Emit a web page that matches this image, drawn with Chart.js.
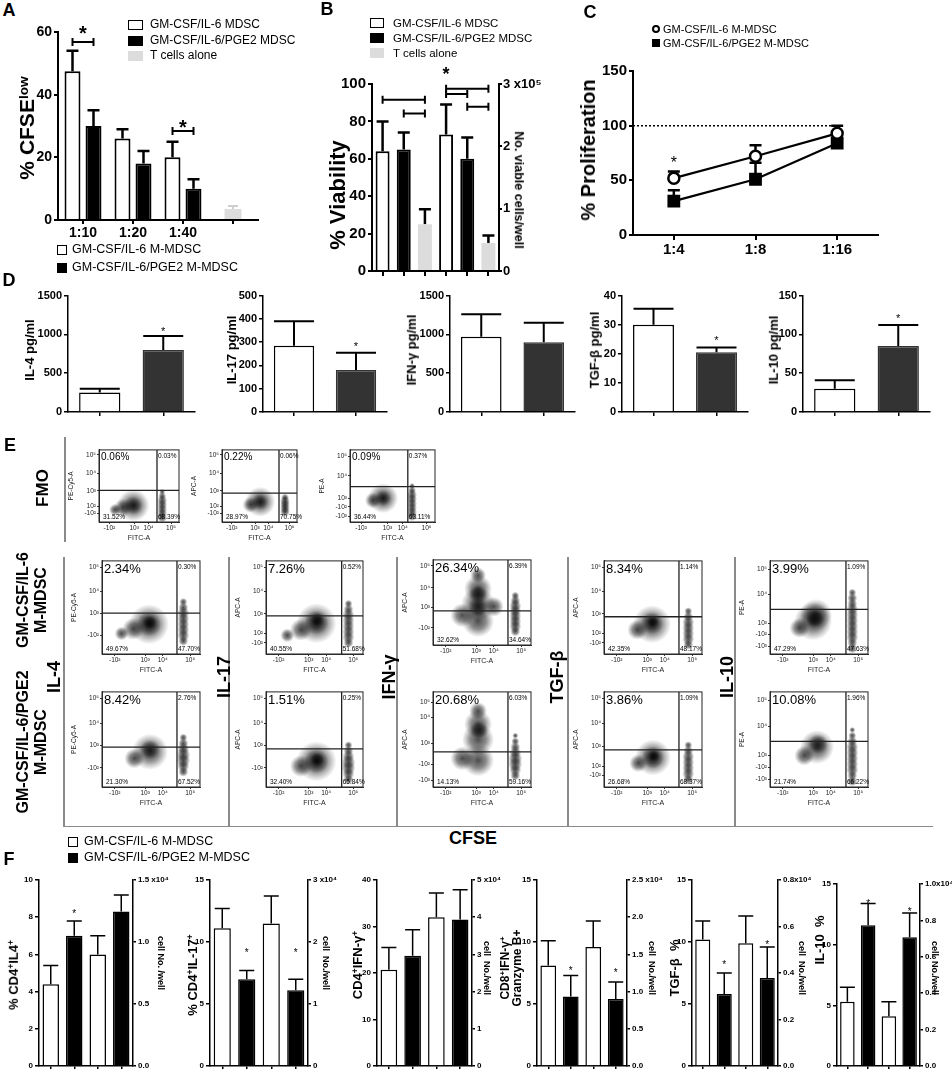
<!DOCTYPE html>
<html>
<head>
<meta charset="utf-8">
<script src="https://cdn.jsdelivr.net/npm/chart.js@4.4.1/dist/chart.umd.min.js"></script>
<style>
  body { margin: 0; background: #fff; }
  #page { position: relative; width: 952px; height: 1076px; overflow: hidden; font-family: "Liberation Sans", Arial, sans-serif; color: #000; }
  .box { position: absolute; }
  .t { position: absolute; white-space: nowrap; font-weight: bold; line-height: 1.1; text-align: center; }
  .n { font-weight: normal; }
  .tight { line-height: 1.0; }
  .sw { position: absolute; box-sizing: border-box; }
  .ln { position: absolute; background: #8a8a8a; }
  sup { font-size: 0.65em; vertical-align: 0.5em; line-height: 0; }
</style>
</head>
<body>
<div id="page"></div>
<script>
// ---------- A: % CFSE low ----------
const ratiosA = ['1:10', '1:20', '1:40', ''];
const cfseIl6 = [47.5, 26, 20, null];
const cfseIl6Err = [54, 29, 25, null];
const cfsePge2 = [30, 18, 10, null];
const cfsePge2Err = [35, 22, 13, null];
const cfseTalone = [null, null, null, 3.5];
const cfseTaloneErr = [null, null, null, 4.5];

// ---------- B: viability (%) and viable cells (x10^5) ----------
const viabilityCats = ['', '', '', '', '', ''];
const viabilityPct = [64, 65, 25, null, null, null];
const viabilityPctErr = [80, 74, 33, null, null, null];
const viableCells = [null, null, null, 2.19, 1.8, 0.45];
const viableCellsErr = [null, null, null, 2.67, 2.14, 0.57];

// ---------- C: % proliferation ----------
const ratiosC = ['1:4', '1:8', '1:16'];
const prolifIl6 = [52, 72, 93];
const prolifIl6Err = [58, 82, 100];
const prolifPge2 = [31, 51, 84];
const prolifPge2Err = [41, 66, null];

// ---------- D: cytokines pg/ml ----------
const cytokinesD = ['IL-4', 'IL-17', 'IFN-γ', 'TGF-β', 'IL-10'];
const dMax = [1500, 500, 1500, 40, 150];
const dStep = [500, 100, 500, 10, 50];
const dIl6 = [250, 285, 970, 30, 30];
const dIl6Err = [300, 390, 1260, 35.5, 41];
const dPge2 = [800, 180, 900, 20.5, 85];
const dPge2Err = [980, 255, 1150, 22.2, 112];
const dStar = [1075, 295, null, 25.6, 124];

// ---------- E: flow plots ----------
const fitcTicks = [13, 44, 62, 90];
const fitcTickText = ['-10²', '10³', '10⁴', '10⁵'];
const yPos5 = [93, 67, 43, 22, 12];
const yTxt5 = ['10⁵', '10⁴', '10³', '10²', '-10²'];
const yPos4 = [93, 67, 44, 20];
const yTxt4 = ['10⁵', '10⁴', '10³', '-10²'];
const yPosPe = [91, 64, 33, 21, 8];
const yPosIfn2 = [89, 73, 46, 24, 7];
const yTxtPe = ['10⁵', '10⁴', '10³', '-10²', '-10³'];

const fmoTitles = ['PE-Cy5-A', 'APC-A', 'PE-A'];
const rowTitles = ['PE-Cy5-A', 'APC-A', 'APC-A', 'APC-A', 'PE-A'];

const fmoPct = [
  ['0.06%', '0.03%', '31.52%', '68.39%'],
  ['0.22%', '0.06%', '28.97%', '70.75%'],
  ['0.09%', '0.37%', '36.44%', '63.11%']
];
const il6Pct = [
  ['2.34%', '0.30%', '49.67%', '47.70%'],
  ['7.26%', '0.52%', '40.55%', '51.68%'],
  ['26.34%', '6.39%', '32.62%', '34.64%'],
  ['8.34%', '1.14%', '42.35%', '48.17%'],
  ['3.99%', '1.09%', '47.29%', '47.63%']
];
const pge2Pct = [
  ['8.42%', '2.76%', '21.30%', '67.52%'],
  ['1.51%', '0.25%', '32.40%', '65.84%'],
  ['20.68%', '6.03%', '14.13%', '59.16%'],
  ['3.86%', '1.09%', '26.68%', '68.37%'],
  ['10.08%', '1.96%', '21.74%', '66.22%']
];
const fmoGates = [[72.5, 44], [76, 40], [68, 49]];
const il6Gates = [[76.5, 44], [78, 41], [76.5, 40], [76.5, 40], [77.5, 48]];
const pge2Gates = [[76.5, 42], [78, 40], [76.5, 37], [76.5, 39], [77.5, 48]];

// cell clouds: [x, y, radius] — left: proliferated cells, right: undivided CFSE-high column
const fmoCells = [
  [[43, 23, 16], [43, 23, 9], [30, 20, 9], [20, 17, 6],
   [79, 6, 5], [79, 12, 5], [79, 18, 5], [79, 24, 5], [79, 30, 5], [79, 36, 4], [79, 42, 3]],
  [[51, 28, 15], [51, 28, 8], [38, 24, 8],
   [84, 14, 5], [84, 19, 5], [84, 24, 5], [84, 29, 5], [84, 34, 4]],
  [[39, 33, 15], [39, 33, 8], [27, 30, 8],
   [73, 8, 5], [73, 14, 5], [73, 20, 5], [73, 26, 5], [73, 32, 5], [73, 38, 5], [73, 44, 4], [73, 50, 3]]
];
const il6Cells = [
  [[48, 32, 20], [48, 32, 12], [49, 34, 7], [32, 27, 11], [20, 22, 7],
   [83, 14, 5], [83, 20, 6], [83, 26, 6], [83, 32, 6], [83, 38, 6], [83, 44, 6], [83, 50, 5], [83, 56, 4]],
  [[52, 33, 20], [52, 34, 12], [53, 37, 7], [36, 26, 11], [22, 20, 7],
   [85, 12, 5], [85, 18, 6], [85, 24, 6], [85, 30, 6], [85, 36, 6], [85, 42, 6], [85, 48, 5], [85, 54, 4]],
  [[46, 28, 16], [46, 48, 17], [46, 66, 14], [46, 82, 8], [46, 45, 10], [46, 60, 9], [30, 35, 12], [62, 45, 10],
   [84, 16, 5], [84, 22, 6], [84, 28, 6], [84, 34, 6], [84, 40, 6], [84, 46, 6], [84, 52, 5], [84, 58, 4]],
  [[49, 32, 19], [49, 33, 11], [50, 35, 6], [34, 26, 10],
   [86, 10, 5], [86, 16, 6], [86, 22, 6], [86, 28, 6], [86, 34, 6], [86, 40, 5], [86, 46, 4]],
  [[44, 35, 19], [47, 42, 16], [46, 38, 9], [30, 28, 10],
   [84, 6, 5], [84, 12, 5], [84, 18, 6], [84, 24, 6], [84, 30, 6], [84, 36, 6], [84, 42, 6], [84, 48, 6], [84, 54, 5], [84, 60, 5], [84, 66, 4]]
];
const pge2Cells = [
  [[49, 37, 18], [49, 39, 10], [33, 30, 10],
   [83, 16, 5], [83, 22, 6], [83, 28, 7], [83, 34, 7], [83, 40, 6], [83, 46, 5], [83, 52, 4]],
  [[52, 27, 20], [52, 27, 12], [53, 29, 7], [36, 22, 11],
   [85, 8, 5], [85, 14, 6], [85, 20, 7], [85, 26, 7], [85, 32, 6], [85, 38, 5], [85, 44, 4]],
  [[46, 28, 16], [46, 50, 16], [46, 66, 14], [46, 80, 9], [47, 60, 9], [30, 30, 12],
   [84, 12, 5], [84, 18, 6], [84, 24, 7], [84, 30, 7], [84, 36, 6], [84, 42, 5], [84, 48, 4], [84, 54, 3]],
  [[50, 31, 18], [50, 31, 11], [51, 33, 6], [35, 25, 9],
   [86, 8, 5], [86, 14, 6], [86, 20, 6], [86, 26, 6], [86, 32, 6], [86, 38, 5], [86, 44, 4]],
  [[48, 42, 17], [49, 45, 10], [35, 33, 10],
   [84, 6, 5], [84, 12, 5], [84, 18, 6], [84, 24, 6], [84, 30, 6], [84, 36, 6], [84, 42, 6], [84, 48, 5], [84, 54, 4], [84, 60, 3]]
];

// ---------- F: % positive (left) and cells/well x10^4 (right) ----------
const fLeftMax = [10, 15, 40, 15, 15, 15];
const fLeftStep = [2, 5, 10, 5, 5, 5];
const fRightMax = [1.5, 3, 5, 2.5, 0.8, 1.0];
const fRightStep = [0.5, 1, 1, 0.5, 0.2, 0.2];
const fPctIl6 = [4.4, 11.1, 20.7, 8.1, 10.2, 5.3];
const fPctIl6Err = [5.4, 12.7, 25.5, 10.1, 11.7, 6.5];
const fPctPge2 = [7.0, 7.0, 23.7, 5.6, 5.8, 11.6];
const fPctPge2Err = [7.8, 7.7, 29.3, 7.3, 7.5, 13.4];
const fCellsIl6 = [0.9, 2.3, 4.0, 1.6, 0.528, 0.273];
const fCellsIl6Err = [1.05, 2.74, 4.65, 1.95, 0.645, 0.353];
const fCellsPge2 = [1.245, 1.22, 3.94, 0.9, 0.379, 0.707];
const fCellsPge2Err = [1.38, 1.4, 4.74, 1.13, 0.512, 0.84];
const fStarA = [8.3, 9.35, null, 7.9, 8.4, 13.6];
const fStarB = [null, 9.35, null, 7.7, 10.0, 12.9];

// ---------- helpers ----------
Chart.defaults.font.family = '"Liberation Sans", Arial, sans-serif';
Chart.defaults.color = '#000';

const page = document.getElementById('page');
const FONT = '"Liberation Sans", Arial, sans-serif';

function mount(box, m) {
  const d = document.createElement('div');
  d.className = 'box';
  d.style.left = (box[0] - m[0]) + 'px';
  d.style.top = (box[1] - m[1]) + 'px';
  d.style.width = (box[2] + m[0] + m[2]) + 'px';
  d.style.height = (box[3] + m[1] + m[3]) + 'px';
  const c = document.createElement('canvas');
  d.appendChild(c);
  page.appendChild(d);
  return c;
}

function txt(html, x, y, size, rot, cls, left) {
  const d = document.createElement('div');
  d.className = 't' + (cls ? ' ' + cls : '');
  d.innerHTML = html;
  d.style.left = x + 'px';
  d.style.top = y + 'px';
  d.style.fontSize = size + 'px';
  d.style.transform = 'translate(' + (left ? '0' : '-50%') + ',-50%)' + (rot ? ' rotate(' + rot + 'deg)' : '');
  page.appendChild(d);
}

function swatch(x, y, w, h, fill, border, round) {
  const d = document.createElement('div');
  d.className = 'sw';
  Object.assign(d.style, { left: x + 'px', top: y + 'px', width: w + 'px', height: h + 'px', background: fill });
  if (border) d.style.border = border;
  if (round) d.style.borderRadius = '50%';
  page.appendChild(d);
}

function rule(x, y, w, h) {
  const d = document.createElement('div');
  d.className = 'ln';
  Object.assign(d.style, { left: x + 'px', top: y + 'px', width: w + 'px', height: h + 'px' });
  page.appendChild(d);
}

function elX(chart, ref) {
  return chart.getDatasetMeta(ref[0]).data[ref[1]].x;
}

// soft round fill so the cell clouds fade out at the edges
function blobFill(c) {
  if (c.type !== 'data' || !c.raw) return 'rgba(0,0,0,0.3)';
  const ch = c.chart;
  const x = ch.scales.x ? ch.scales.x.getPixelForValue(c.raw.x) : NaN;
  const y = ch.scales.y ? ch.scales.y.getPixelForValue(c.raw.y) : NaN;
  if (!isFinite(x) || !isFinite(y) || !(c.raw.r > 0)) return 'rgba(0,0,0,0.3)';
  const g = ch.ctx.createRadialGradient(x, y, 0, x, y, c.raw.r);
  g.addColorStop(0, 'rgba(0,0,0,0.7)');
  g.addColorStop(0.5, 'rgba(0,0,0,0.45)');
  g.addColorStop(0.8, 'rgba(0,0,0,0.16)');
  g.addColorStop(1, 'rgba(0,0,0,0)');
  return g;
}

// error bars, brackets, stars, reference line, flow gates
const extras = {
  id: 'extras',
  beforeDatasetsDraw(chart) {
    const ctx = chart.ctx;
    chart.data.datasets.forEach((ds, di) => {
      if (!ds.errors) return;
      const meta = chart.getDatasetMeta(di);
      const sc = chart.scales[meta.yAxisID];
      meta.data.forEach((el, i) => {
        const e = ds.errors[i];
        if (e == null || ds.data[i] == null) return;
        const ye = sc.getPixelForValue(e);
        const cap = (ds.capWidth || 8) / 2;
        ctx.save();
        ctx.strokeStyle = ds.errorColor || '#000';
        ctx.lineWidth = ds.errorWidth || 2;
        ctx.beginPath();
        ctx.moveTo(el.x, el.y);
        ctx.lineTo(el.x, ye);
        ctx.moveTo(el.x - cap, ye);
        ctx.lineTo(el.x + cap, ye);
        ctx.stroke();
        ctx.restore();
      });
    });
  },
  afterDraw(chart) {
    const o = (chart.config.options.plugins || {}).extras || {};
    const ctx = chart.ctx, a = chart.chartArea, y = chart.scales.y;
    ctx.save();
    ctx.strokeStyle = '#000';
    ctx.fillStyle = '#000';
    (o.brackets || []).forEach(b => {
      const x1 = elX(chart, b.from), x2 = elX(chart, b.to), yy = y.getPixelForValue(b.v);
      ctx.lineWidth = 2;
      ctx.beginPath();
      ctx.moveTo(x1, yy - 4); ctx.lineTo(x1, yy + 4);
      ctx.moveTo(x1, yy); ctx.lineTo(x2, yy);
      ctx.moveTo(x2, yy - 4); ctx.lineTo(x2, yy + 4);
      ctx.stroke();
    });
    (o.stars || []).forEach(s => {
      let x = elX(chart, s.at);
      if (s.to) x = (x + elX(chart, s.to)) / 2;
      ctx.font = (s.bold === false ? '' : 'bold ') + s.size + 'px ' + FONT;
      ctx.textAlign = 'center';
      ctx.textBaseline = 'alphabetic';
      ctx.fillText('*', x, y.getPixelForValue(s.v) + 0.58 * s.size);
    });
    if (o.refLine) {
      const yy = y.getPixelForValue(o.refLine.v);
      ctx.lineWidth = 1.5;
      ctx.setLineDash([2, 2]);
      ctx.beginPath();
      ctx.moveTo(a.left, yy);
      ctx.lineTo(chart.scales.x.getPixelForValue(o.refLine.to), yy);
      ctx.stroke();
      ctx.setLineDash([]);
    }
    if (o.flow) {
      const f = o.flow, xs = chart.scales.x;
      ctx.strokeStyle = '#222';
      ctx.lineWidth = 1;
      ctx.strokeRect(a.left, a.top, a.right - a.left, a.bottom - a.top);
      const gx = xs.getPixelForValue(f.gate[0]), gy = y.getPixelForValue(f.gate[1]);
      ctx.lineWidth = 1.3;
      ctx.beginPath();
      ctx.moveTo(gx, a.top); ctx.lineTo(gx, a.bottom);
      ctx.moveTo(a.left, gy); ctx.lineTo(a.right, gy);
      ctx.stroke();
      ctx.textAlign = 'left';
      ctx.textBaseline = 'top';
      ctx.font = f.big + 'px ' + FONT;
      ctx.fillText(f.pct[0], a.left + 2, a.top + 2);
      ctx.font = '6.5px ' + FONT;
      ctx.fillText(f.pct[1], gx + 1, a.top + 3);
      ctx.textBaseline = 'bottom';
      ctx.fillText(f.pct[2], a.left + 4, a.bottom - 2);
      ctx.fillText(f.pct[3], gx + 1, a.bottom - 2);
    }
    ctx.restore();
  }
};
Chart.register(extras);

function baseOpts(m, scales, ex) {
  return {
    responsive: true,
    maintainAspectRatio: false,
    animation: false,
    events: [],
    layout: { autoPadding: false, padding: { left: 0, top: m[1], right: scales.y1 ? 0 : m[2], bottom: 0 } },
    scales,
    plugins: { legend: { display: false }, tooltip: { enabled: false }, extras: ex || {} }
  };
}

function catAxis(h, size, tick, bw) {
  return {
    type: 'category', offset: true,
    grid: { offset: false, drawOnChartArea: false, color: '#000', lineWidth: bw || 1.5, tickLength: tick },
    border: { color: '#000', width: bw || 1.5 },
    ticks: { font: { size, weight: 'bold' }, padding: 1, maxRotation: 0, autoSkip: false },
    afterFit: s => { s.height = h; }
  };
}

function valAxis(w, max, step, size, pos, cb, bw) {
  return {
    type: 'linear', position: pos || 'left', min: 0, max,
    grid: { drawOnChartArea: false, color: '#000', lineWidth: bw || 1.5, tickLength: 4 },
    border: { color: '#000', width: bw || 1.5 },
    ticks: { stepSize: step, font: { size, weight: 'bold' }, padding: 2, callback: cb || (v => String(v)) },
    afterFit: s => { s.width = w; }
  };
}

// ---------- panel A ----------
{
  const m = [36, 14, 6, 24];
  const bar = { skipNull: true, categoryPercentage: 0.84, barPercentage: 0.76, maxBarThickness: 17 };
  new Chart(mount([58, 32, 200, 188], m), {
    type: 'bar',
    data: {
      labels: ratiosA,
      datasets: [
        { ...bar, data: cfseIl6, errors: cfseIl6Err, backgroundColor: '#fff', borderColor: '#000', borderWidth: 2, capWidth: 12, errorWidth: 2.5 },
        { ...bar, data: cfsePge2, errors: cfsePge2Err, backgroundColor: '#000', borderColor: '#000', borderWidth: 2, capWidth: 12, errorWidth: 2.5 },
        { ...bar, data: cfseTalone, errors: cfseTaloneErr, backgroundColor: '#dcdcdc', borderWidth: 0, errorColor: '#cfcfcf', capWidth: 10 }
      ]
    },
    options: baseOpts(m, {
      x: catAxis(24, 14, 4, 2),
      y: valAxis(36, 60, 20, 14, 'left', null, 2)
    }, {
      brackets: [{ from: [0, 0], to: [1, 0], v: 56.8 }, { from: [0, 2], to: [1, 2], v: 28.4 }],
      stars: [{ at: [0, 0], to: [1, 0], v: 61.3, size: 20 }, { at: [0, 2], to: [1, 2], v: 31.3, size: 20 }]
    })
  });
  txt('A', 9, 11, 18);
  txt('% CFSE<sup>low</sup>', 27, 128, 21, -90);
  swatch(128, 20, 15, 10, '#fff', '1.5px solid #000');
  swatch(128, 36, 15, 10, '#000');
  swatch(128, 51, 15, 10, '#dcdcdc');
  txt('GM-CSF/IL-6 MDSC', 150, 25, 12, 0, 'n', true);
  txt('GM-CSF/IL-6/PGE2 MDSC', 150, 41, 12, 0, 'n', true);
  txt('T cells alone', 150, 56, 12, 0, 'n', true);
  swatch(57, 245, 10, 10, '#fff', '1.5px solid #000');
  swatch(57, 263, 10, 10, '#000');
  txt('GM-CSF/IL-6 M-MDSC', 72, 250, 12.5, 0, 'n', true);
  txt('GM-CSF/IL-6/PGE2 M-MDSC', 72, 268, 12.5, 0, 'n', true);
}

// ---------- panel B ----------
{
  const m = [40, 30, 62, 8];
  const bar = { skipNull: true, categoryPercentage: 1, barPercentage: 0.66, borderColor: '#000', borderWidth: 2, capWidth: 12, errorWidth: 2.5 };
  const fills = ['#fff', '#000', '#dcdcdc', '#fff', '#000', '#dcdcdc'];
  const rightAxis = valAxis(62, 3, 1, 13, 'right', (v, i, t) => i === t.length - 1 ? v + ' x10⁵' : String(v), 2);
  rightAxis.ticks.padding = 1;
  rightAxis.grid.tickLength = 3;
  new Chart(mount([372, 84, 127, 190], m), {
    type: 'bar',
    data: {
      labels: viabilityCats,
      datasets: [
        { ...bar, data: viabilityPct, errors: viabilityPctErr, backgroundColor: fills, borderWidth: [2, 2, 0, 2, 2, 0] },
        { ...bar, yAxisID: 'y1', data: viableCells, errors: viableCellsErr, backgroundColor: fills, borderWidth: [2, 2, 0, 2, 2, 0] }
      ]
    },
    options: baseOpts(m, {
      x: catAxis(8, 10, 5, 2),
      y: valAxis(40, 100, 20, 15, 'left', null, 2),
      y1: rightAxis
    }, {
      brackets: [
        { from: [0, 0], to: [0, 2], v: 91.6 }, { from: [0, 1], to: [0, 2], v: 84.2 },
        { from: [1, 3], to: [1, 5], v: 97.4 }, { from: [1, 3], to: [1, 4], v: 94.7 }, { from: [1, 4], to: [1, 5], v: 87.9 }
      ],
      stars: [{ at: [1, 3], v: 107.9, size: 18 }]
    })
  });
  txt('B', 327, 10, 18);
  txt('% Viability', 338, 195, 22, -90);
  txt('No. viable cells/well', 518, 190, 12.5, 90);
  swatch(370, 18, 14, 10, '#fff', '1.5px solid #000');
  swatch(370, 33, 14, 10, '#000');
  swatch(370, 48, 14, 10, '#dcdcdc');
  txt('GM-CSF/IL-6 MDSC', 393, 23, 11.5, 0, 'n', true);
  txt('GM-CSF/IL-6/PGE2 MDSC', 393, 38, 11.5, 0, 'n', true);
  txt('T cells alone', 393, 53, 11.5, 0, 'n', true);
}

// ---------- panel C ----------
{
  const m = [40, 10, 8, 22];
  new Chart(mount([633, 70, 245, 165], m), {
    type: 'line',
    data: {
      labels: ratiosC,
      datasets: [
        { data: prolifIl6, errors: prolifIl6Err, borderColor: '#000', borderWidth: 2.2, pointStyle: 'circle', pointRadius: 5.5, pointBorderWidth: 2.5, pointBackgroundColor: '#fff', pointBorderColor: '#000', capWidth: 12, errorWidth: 2.5 },
        { data: prolifPge2, errors: prolifPge2Err, borderColor: '#000', borderWidth: 2.2, pointStyle: 'rect', pointRadius: 7.5, pointBackgroundColor: '#000', pointBorderColor: '#000', capWidth: 12, errorWidth: 2.5 }
      ]
    },
    options: baseOpts(m, {
      x: catAxis(22, 15, 5, 2),
      y: valAxis(40, 150, 50, 15, 'left', null, 2)
    }, {
      refLine: { v: 100, to: 2 },
      stars: [{ at: [0, 0], v: 70, size: 16, bold: false }]
    })
  });
  txt('C', 590, 13, 18);
  txt('% Proliferation', 588, 150, 20, -90);
  swatch(652, 25, 8, 8, '#fff', '2px solid #000', true);
  swatch(652, 39, 8, 8, '#000');
  txt('GM-CSF/IL-6 M-MDSC', 663, 29, 11, 0, 'n', true);
  txt('GM-CSF/IL-6/PGE2 M-MDSC', 663, 43, 11, 0, 'n', true);
}

// ---------- panel D ----------
{
  const boxes = [[68, 127], [263, 124], [450, 125], [622, 126], [803, 127]];
  const titleX = [30, 232, 412, 595, 774];
  boxes.forEach((b, k) => {
    const m = [40, 8, 6, 10];
    new Chart(mount([b[0], 295, b[1], 117], m), {
      type: 'bar',
      data: {
        labels: ['', ''],
        datasets: [{
          data: [dIl6[k], dPge2[k]], errors: [dIl6Err[k], dPge2Err[k]],
          backgroundColor: ['#fff', '#333'], borderColor: ['#000', '#333'], borderWidth: 1.5,
          categoryPercentage: 1, barPercentage: 0.65, capWidth: 40, errorWidth: 2
        }]
      },
      options: baseOpts(m, {
        x: catAxis(10, 8, 4),
        y: valAxis(40, dMax[k], dStep[k], 11)
      }, { stars: dStar[k] != null ? [{ at: [0, 1], v: dStar[k], size: 11, bold: false }] : [] })
    });
    txt(cytokinesD[k] + ' pg/ml', titleX[k], 350, 13, -90);
  });
  txt('D', 9, 281, 18);
}

// ---------- panel E ----------
function flow(frame, cells, gate, pct, yPos, yTxt, yTitle, big) {
  const m = [32, 2, 16, 20];
  new Chart(mount(frame, m), {
    type: 'bubble',
    data: { datasets: [{ data: cells.map(c => ({ x: c[0], y: c[1], r: c[2] })), backgroundColor: blobFill, borderWidth: 0, clip: 0 }] },
    options: baseOpts(m, {
      x: {
        type: 'linear', min: 0, max: 100,
        afterBuildTicks: s => { s.ticks = fitcTicks.map(v => ({ value: v })); },
        ticks: { callback: (v, i) => fitcTickText[i], font: { size: 6.5 }, padding: 0, maxRotation: 0, autoSkip: false, color: '#222' },
        grid: { drawOnChartArea: false, color: '#333', tickLength: 2 },
        border: { color: '#333' },
        title: { display: true, text: 'FITC-A', font: { size: 7 }, padding: 0, color: '#222' },
        afterFit: s => { s.height = 20; }
      },
      y: {
        type: 'linear', min: 0, max: 100,
        afterBuildTicks: s => { s.ticks = yPos.map(v => ({ value: v })); },
        ticks: { callback: (v, i) => yTxt[i], font: { size: 6.5 }, padding: 1, autoSkip: false, color: '#222' },
        grid: { drawOnChartArea: false, color: '#333', tickLength: 2 },
        border: { color: '#333' },
        title: { display: true, text: yTitle, font: { size: 6.5 }, padding: 0, color: '#222' },
        afterFit: s => { s.width = 32; }
      }
    }, { flow: { gate, pct, big } })
  });
}

{
  const fmoFrames = [[99, 447, 80, 75], [222, 447, 75, 75], [350, 447, 85, 75]];
  const fmoY = [[yPos5, yTxt5], [yPos5, yTxt5], [yPosPe, yTxtPe]];
  fmoFrames.forEach((f, k) => flow(f, fmoCells[k], fmoGates[k], fmoPct[k], fmoY[k][0], fmoY[k][1], fmoTitles[k], 10));

  const colX = [102, 266, 433, 604, 770];
  const colW = [98, 97, 98, 98, 98];
  const row1Y = [[yPos4, yTxt4], [yPos5, yTxt5], [yPos4, yTxt4], [yPos5, yTxt5], [yPosPe, yTxtPe]];
  const row2Y = [[yPos4, yTxt4], [yPos4, yTxt4], [yPosIfn2, yTxtPe], [yPos5, yTxt5], [yPosPe, yTxtPe]];
  colX.forEach((x, k) => {
    const h1 = k === 2 ? 88 : 96;
    const top1 = k === 2 ? 557 : 558;
    flow([x, top1, colW[k], h1], il6Cells[k], il6Gates[k], il6Pct[k], row1Y[k][0], row1Y[k][1], rowTitles[k], 13);
    flow([x, 689, colW[k], 98], pge2Cells[k], pge2Gates[k], pge2Pct[k], row2Y[k][0], row2Y[k][1], rowTitles[k], 13);
  });

  txt('E', 10, 446, 18);
  txt('FMO', 43, 488, 17, -90);
  rule(64, 437, 1.5, 105);
  [63, 228, 396, 567, 734].forEach(x => rule(x, 557, 1.5, 270));
  rule(63, 826, 870, 1.2);
  txt('GM-CSF/IL-6<br>M-MDSC', 32, 600, 16, -90);
  txt('GM-CSF/IL-6/PGE2<br>M-MDSC', 32, 742, 16, -90);
  txt('IL-4', 55, 677, 18, -90);
  txt('IL-17', 225, 677, 18, -90);
  txt('IFN-γ', 390, 677, 18, -90);
  txt('TGF-β', 558, 677, 18, -90);
  txt('IL-10', 728, 677, 18, -90);
  txt('CFSE', 473, 839, 18);
}

// ---------- panel F ----------
{
  const boxes = [[39, 880, 94, 186], [210, 880, 98, 186], [377, 880, 95, 186], [537, 880, 90, 186], [692, 880, 86, 186], [837, 884, 83, 182]];
  boxes.forEach((box, k) => {
    const m = [26, 10, 44, 8];
    const bar = {
      skipNull: true, categoryPercentage: 1, barPercentage: 0.7,
      backgroundColor: ['#fff', '#000', '#fff', '#000'], borderColor: '#000', borderWidth: 1.5,
      errorWidth: 1.5, capWidth: 15
    };
    const stars = [];
    if (fStarA[k] != null) stars.push({ at: [0, 1], v: fStarA[k], size: 10, bold: false });
    if (fStarB[k] != null) stars.push({ at: [1, 3], v: fStarB[k], size: 10, bold: false });
    const right = valAxis(44, fRightMax[k], fRightStep[k], 8, 'right', (v, i, t) => {
      const s = fRightStep[k] < 1 ? v.toFixed(1) : String(v);
      return i === t.length - 1 ? s + (k >= 4 ? 'x10⁴' : ' x10⁴') : s;
    });
    right.grid.tickLength = 3;
    new Chart(mount(box, m), {
      type: 'bar',
      data: {
        labels: ['', '', '', ''],
        datasets: [
          { ...bar, data: [fPctIl6[k], fPctPge2[k], null, null], errors: [fPctIl6Err[k], fPctPge2Err[k], null, null] },
          { ...bar, yAxisID: 'y1', data: [null, null, fCellsIl6[k], fCellsPge2[k]], errors: [null, null, fCellsIl6Err[k], fCellsPge2Err[k]] }
        ]
      },
      options: baseOpts(m, {
        x: catAxis(8, 8, 3),
        y: valAxis(26, fLeftMax[k], fLeftStep[k], 8),
        y1: right
      }, { stars })
    });
  });
  txt('F', 9, 860, 18);
  swatch(68, 837, 10, 10, '#fff', '1.5px solid #000');
  swatch(68, 853, 10, 10, '#000');
  txt('GM-CSF/IL-6 M-MDSC', 84, 842, 12.5, 0, 'n', true);
  txt('GM-CSF/IL-6/PGE2 M-MDSC', 84, 858, 12.5, 0, 'n', true);
  txt('% CD4<sup>+</sup>IL4<sup>+</sup>', 14, 975, 13, -90);
  txt('% CD4<sup>+</sup>IL-17<sup>+</sup>', 193, 975, 13, -90);
  txt('CD4<sup>+</sup>IFN-γ<sup>+</sup>', 358, 965, 13, -90);
  txt('CD8<sup>+</sup>IFN-γ<sup>+</sup><br>Granzyme B+', 511, 968, 12, -90, 'tight');
  txt('TGF-β &nbsp;%', 675, 968, 13, -90);
  txt('IL-10 &nbsp;%', 820, 940, 13, -90);
  [[160, 963], [325, 963], [486, 968], [651, 968], [801, 968], [934, 968]].forEach((p, k) => {
    txt(k === 0 ? 'cell No. /well' : 'cell &nbsp;No./well', p[0], p[1], 9, 90);
  });
}
</script>
</body>
</html>
